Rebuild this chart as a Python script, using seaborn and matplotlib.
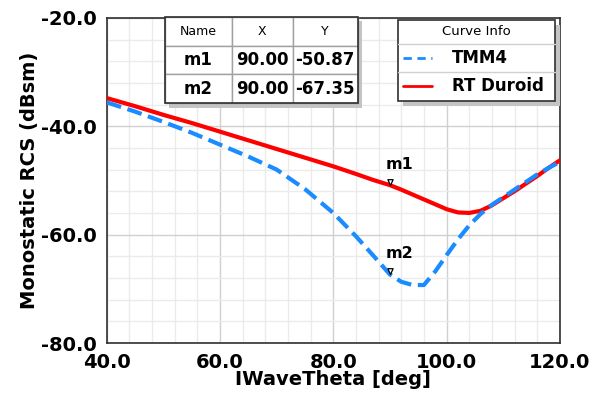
import numpy as np
import pandas as pd
import matplotlib
matplotlib.use("Agg")
import matplotlib.pyplot as plt
from matplotlib.patches import Rectangle
from matplotlib.lines import Line2D
from matplotlib.path import Path
import seaborn as sns

# data
theta = [40, 45, 50, 55, 60, 65, 70, 75, 80, 84, 87, 90, 92, 94, 96, 98,
         100, 102, 104, 106, 108, 110, 112, 114, 116, 118, 120]
rcs_tmm4 = [-35.6, -37.3, -39.2, -41.2, -43.4, -45.6, -48.0, -51.6, -56.0, -60.3,
            -63.8, -67.35, -68.7, -69.3, -69.3, -66.8, -63.8, -60.9, -58.3, -56.2,
            -54.5, -53.1, -51.7, -50.3, -48.9, -47.7, -46.6]
rcs_duroid = [-34.8, -36.3, -37.9, -39.4, -41.0, -42.6, -44.2, -45.8, -47.4, -48.8,
              -49.9, -50.87, -51.7, -52.6, -53.5, -54.4, -55.3, -55.9, -56.0, -55.6,
              -54.6, -53.3, -52.0, -50.6, -49.2, -47.7, -46.3]
curve_names = ["TMM4", "RT Duroid"]
curve_colors = {"TMM4": "#1a8cff", "RT Duroid": "#ff0000"}

marker_names = ["m1", "m2"]
marker_x = [90.00, 90.00]
marker_y = [-50.87, -67.35]

df = pd.DataFrame({
    "theta": theta * 2,
    "rcs": rcs_duroid + rcs_tmm4,
    "curve": ["RT Duroid"] * len(theta) + ["TMM4"] * len(theta),
})

sns.set_style("white")
plt.rcParams["font.family"] = ["DejaVu Sans"]
plt.rcParams["text.color"] = "black"
plt.rcParams["axes.labelcolor"] = "black"
plt.rcParams["xtick.color"] = "black"
plt.rcParams["ytick.color"] = "black"

fig = plt.figure(figsize=(6, 3.97), dpi=100)
ax = fig.add_axes([0.178, 0.136, 0.755, 0.819])

sns.lineplot(data=df, x="theta", y="rcs", hue="curve", style="curve",
             hue_order=["RT Duroid", "TMM4"], style_order=["RT Duroid", "TMM4"],
             palette=curve_colors, dashes={"RT Duroid": "", "TMM4": (3.6, 1.6)},
             linewidth=3, legend=False, ax=ax, zorder=3)

ax.set_xlim(40, 120)
ax.set_ylim(-80, -20)
ax.set_xticks(np.arange(40, 121, 20))
ax.set_yticks(np.arange(-80, -19, 20))
ax.set_xticks(np.arange(40, 121, 4), minor=True)
ax.set_yticks(np.arange(-80, -19, 4), minor=True)
ax.set_xticklabels([f"{v:.1f}" for v in np.arange(40, 121, 20)])
ax.set_yticklabels([f"{v:.1f}" for v in np.arange(-80, -19, 20)])
ax.grid(which="minor", color="#ebebeb", linewidth=1, zorder=0)
ax.grid(which="major", color="#d0d0d0", linewidth=1, zorder=0)
ax.tick_params(which="major", direction="out", length=6, width=1, colors="black",
               labelsize=14, pad=1)
ax.tick_params(which="minor", direction="inout", length=5, width=1, color="black")
for lab in ax.get_xticklabels() + ax.get_yticklabels():
    lab.set_fontweight("bold")
for s in ax.spines.values():
    s.set_color("#303030")
    s.set_linewidth(1.2)

ax.set_xlabel("IWaveTheta [deg]", fontsize=14, fontweight="bold", labelpad=-1)
ax.set_ylabel("Monostatic RCS (dBsm)", fontsize=14, fontweight="bold", labelpad=2)

# markers: downward triangle with the tip at the point
tri = Path([(-0.45, 1.0), (0.45, 1.0), (0.0, 0.0), (-0.45, 1.0)],
           [Path.MOVETO, Path.LINETO, Path.LINETO, Path.CLOSEPOLY])
ax.scatter(marker_x, marker_y, marker=tri, s=70, facecolor="white",
           edgecolor="black", linewidth=0.9, zorder=5)
for name, mx, my in zip(marker_names, marker_x, marker_y):
    ax.annotate(name, (mx, my), xytext=(7, 15), textcoords="offset points",
                ha="center", va="center", fontsize=11.5, fontweight="bold", zorder=6)

# marker table
tx0, ty0, tw, th = 0.128, 0.738, 0.426, 0.265
ax.add_patch(Rectangle((tx0 + 0.009, ty0 - 0.014), tw, th, transform=ax.transAxes,
                       facecolor="#c4c4c4", edgecolor="none", zorder=7, clip_on=False))
cells = [[n, f"{x:.2f}", f"{y:.2f}"] for n, x, y in zip(marker_names, marker_x, marker_y)]
tbl = ax.table(cellText=cells, colLabels=["Name", "X", "Y"],
               colWidths=[67, 61, 65], bbox=[tx0, ty0, tw, th], cellLoc="center")
tbl.auto_set_font_size(False)
tbl.set_zorder(8)
for (r, c), cell in tbl.get_celld().items():
    cell.set_edgecolor("#a0a0a0")
    cell.set_facecolor("white")
    cell.set_linewidth(1)
    if r == 0:
        cell.get_text().set_fontsize(9)
    else:
        cell.get_text().set_fontsize(12)
        cell.get_text().set_fontweight("bold")
ax.add_patch(Rectangle((tx0, ty0), tw, th, transform=ax.transAxes, fill=False,
                       edgecolor="#303030", linewidth=1.2, zorder=9, clip_on=False))

# curve info box
lx0, ly0, lw_, lh = 0.642, 0.745, 0.347, 0.249
ax.add_patch(Rectangle((lx0 + 0.011, ly0 - 0.017), lw_, lh, transform=ax.transAxes,
                       facecolor="#c4c4c4", edgecolor="none", zorder=7, clip_on=False))
ax.add_patch(Rectangle((lx0, ly0), lw_, lh, transform=ax.transAxes, facecolor="white",
                       edgecolor="#303030", linewidth=1.2, zorder=8, clip_on=False))
for yy in [0.92, 0.834]:
    ax.add_line(Line2D([lx0, lx0 + lw_], [yy, yy], transform=ax.transAxes,
                       color="#d0d0d0", linewidth=1, zorder=9))
ax.text(lx0 + lw_ / 2, 0.957, "Curve Info", transform=ax.transAxes, ha="center",
        va="center", fontsize=9.5, zorder=10)
for name, yy in zip(curve_names, [0.877, 0.791]):
    ax.add_line(Line2D([0.653, 0.717], [yy, yy], transform=ax.transAxes,
                       color=curve_colors[name], linewidth=2,
                       linestyle=(0, (3, 2)) if name == "TMM4" else "-", zorder=10))
    ax.text(0.762, yy, name, transform=ax.transAxes, ha="left", va="center",
            fontsize=12, fontweight="bold", zorder=10)

fig.savefig("out.png", dpi=100, facecolor="white")
